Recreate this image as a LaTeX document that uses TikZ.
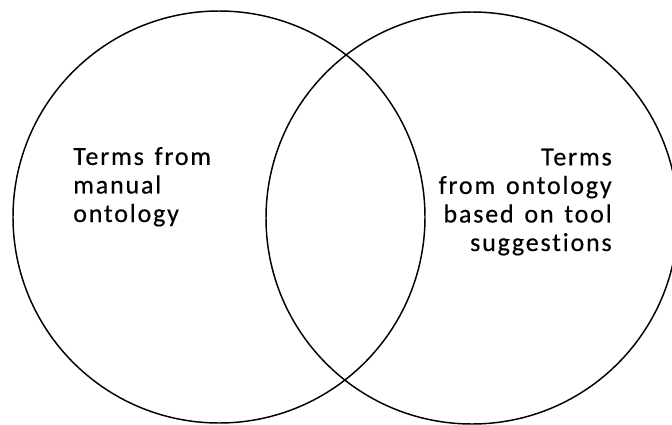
\documentclass[tikz,border=0pt]{standalone}
\usepackage{fontspec}
\usepackage{tikz}
\usetikzlibrary{positioning}
\newfontfamily\vennfont{Carlito}[LetterSpace=7,WordSpace=1.4,Ligatures=NoCommon,FakeBold=0.4]
\tikzset{
  set/.style={draw=black, circle, line width=1.1pt, minimum size=309pt, inner sep=0pt},
  setlabel/.style={font=\vennfont\fontsize{19.5}{21.4}\selectfont, inner sep=0pt}
}

\begin{document}
\begin{tikzpicture}[x=0.75pt,y=-0.75pt]
        \useasboundingbox (0,0) rectangle (672,425);
        \node[set] (manual) at (219,217) {};
        \node[set] (tool) at (472,218) {};

        \node[setlabel,align=left,anchor=base west] (manuallabel) at (73,222) {Terms from\\manual\\ontology};
        \node[setlabel,align=right,anchor=base east] (toollabel) at (612,251) {Terms\\from ontology\\based on tool\\suggestions};
      \end{tikzpicture}
\end{document}
